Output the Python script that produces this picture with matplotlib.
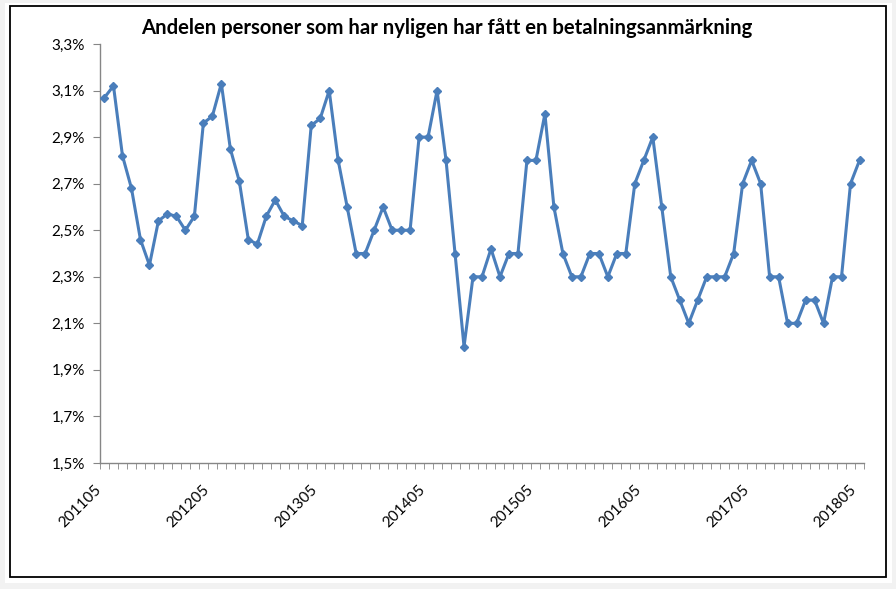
import matplotlib
matplotlib.use("Agg")
import matplotlib.pyplot as plt
from matplotlib.patches import Rectangle

title = "Andelen personer som har nyligen har fått en betalningsanmärkning"

values = [3.07, 3.12, 2.82, 2.68, 2.46, 2.35, 2.54, 2.57, 2.56, 2.50,
          2.56, 2.96, 2.99, 3.13, 2.85, 2.71, 2.46, 2.44, 2.56, 2.63,
          2.56, 2.54, 2.52, 2.95, 2.98, 3.10, 2.80, 2.60, 2.40, 2.40,
          2.50, 2.60, 2.50, 2.50, 2.50, 2.90, 2.90, 3.10, 2.80, 2.40,
          2.00, 2.30, 2.30, 2.42, 2.30, 2.40, 2.40, 2.80, 2.80, 3.00,
          2.60, 2.40, 2.30, 2.30, 2.40, 2.40, 2.30, 2.40, 2.40, 2.70,
          2.80, 2.90, 2.60, 2.30, 2.20, 2.10, 2.20, 2.30, 2.30, 2.30,
          2.40, 2.70, 2.80, 2.70, 2.30, 2.30, 2.10, 2.10, 2.20, 2.20,
          2.10, 2.30, 2.30, 2.70, 2.80]

xtick_labels = ["201105", "201205", "201305", "201405", "201505", "201605", "201705", "201805"]
ytick_values = [1.5, 1.7, 1.9, 2.1, 2.3, 2.5, 2.7, 2.9, 3.1, 3.3]
ytick_labels = ["1,5%", "1,7%", "1,9%", "2,1%", "2,3%", "2,5%", "2,7%", "2,9%", "3,1%", "3,3%"]

FONT = ["Lato", "DejaVu Sans"]
plt.rcParams['font.family'] = FONT

W, H = 896, 589
fig = plt.figure(figsize=(W / 100, H / 100), dpi=100)
fig.patch.set_facecolor("#f2f2f2")

# white chart area and black frame
fig.patches.append(Rectangle((5 / W, 1 - 583 / H), 887 / W, 580 / H,
                             transform=fig.transFigure, facecolor="white",
                             edgecolor="none", zorder=0))
fig.patches.append(Rectangle((9.5 / W, 1 - 577 / H), 876.5 / W, 571 / H,
                             transform=fig.transFigure, facecolor="none",
                             edgecolor="black", linewidth=1.3, zorder=1))

ax = fig.add_axes([100 / W, 1 - 463 / H, 764 / W, 419 / H])
ax.set_facecolor("none")
ax.set_zorder(5)

x = list(range(len(values)))
ax.plot(x, values, color="#4a7ebb", linewidth=2.2, marker="D", markersize=4.2,
        markerfacecolor="#4a7ebb", markeredgecolor="#4a7ebb", zorder=3,
        clip_on=False)

ax.set_xlim(-0.5, len(values) - 0.5)
ax.set_ylim(1.5, 3.3)

ax.set_yticks(ytick_values)
ax.set_yticklabels(ytick_labels, fontsize=11)

label_pos = [i * 12 for i in range(len(xtick_labels))]
ax.set_xticks(label_pos)
ax.set_xticklabels(xtick_labels, fontsize=11, rotation=45, ha="right",
                   rotation_mode="default")
ax.set_xticks([i - 0.5 for i in range(len(values) + 1)], minor=True)

ax.tick_params(axis="x", which="major", length=0, pad=14, colors="black")
ax.tick_params(axis="x", which="minor", length=4, color="#868686", direction="out")
ax.tick_params(axis="y", which="major", length=5, color="#868686", pad=6, labelcolor="black")

for s in ["top", "right"]:
    ax.spines[s].set_visible(False)
for s in ["left", "bottom"]:
    ax.spines[s].set_color("#868686")
    ax.spines[s].set_linewidth(1.0)

fig.text(447 / W, 1 - 28 / H, title, ha="center", va="center",
         fontsize=14.6, fontweight="bold", color="black", zorder=6)

fig.savefig("out.png", dpi=100, facecolor=fig.get_facecolor())
